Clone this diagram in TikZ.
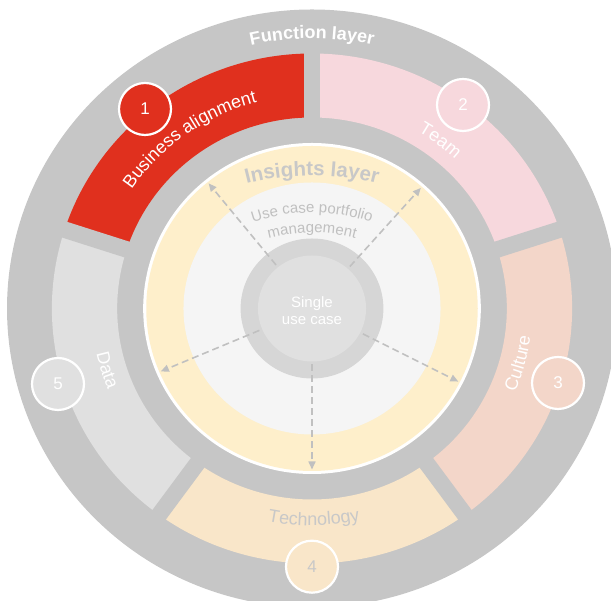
\documentclass[tikz,border=0pt]{standalone}
\usepackage{fontspec}
\setmainfont{Liberation Sans}
\usetikzlibrary{arrows.meta,decorations.text}

\definecolor{ringgray}{HTML}{C6C6C6}
\definecolor{bizred}{HTML}{E0301E}
\definecolor{teampink}{HTML}{F7D8DD}
\definecolor{culturepeach}{HTML}{F3D6C9}
\definecolor{techtan}{HTML}{F9E6C9}
\definecolor{datagray}{HTML}{E0E0E0}
\definecolor{insightyellow}{HTML}{FEEFCB}
\definecolor{portfoliogray}{HTML}{F5F5F5}
\definecolor{corering}{HTML}{D6D6D6}
\definecolor{corefill}{HTML}{E0E0E0}
\definecolor{arrowgray}{HTML}{C0C0C0}
\definecolor{labelgray}{HTML}{C8C8C8}

% annular sector of the function layer: colour, start angle, end angle
\newcommand\ringsector[3]{%
  \fill[#1] (#2:191) arc[start angle=#2,end angle=#3,radius=191]
    -- (#3:255) arc[start angle=#3,end angle=#2,radius=255] -- cycle;}
% curved label: colour, font size, start angle, end angle, radius, text
\newcommand\arclabel[6]{%
  \path[decorate,decoration={text along path,text align=center,text color=#1,
    text={|\fontsize{#2}{#2}\selectfont|#6}}]
    (#3:#5) arc[start angle=#3,end angle=#4,radius=#5];}

\tikzset{
  numbadge/.style={circle,draw=white,line width=2.2pt,minimum size=52pt,
    inner sep=0pt,font=\fontsize{17}{17}\selectfont,text=white},
  flow/.style={arrowgray,line width=1.6pt,dash pattern=on 7pt off 4pt,
    -{Triangle[length=8pt,width=7pt]}},
  gapline/.style={ringgray,line width=16.5pt}
}

\begin{document}
\begin{tikzpicture}[x=1pt,y=1pt]
\useasboundingbox (0,0) rectangle (611,601);
\clip (0,0) rectangle (611,601);

\begin{scope}[shift={(312,292.5)},xscale=1.02]
  % function layer disc
  \fill[ringgray] (0,0) circle (299);
  \ringsector{bizred}{90}{162}
  \ringsector{teampink}{18}{90}
  \ringsector{culturepeach}{-54}{18}
  \ringsector{techtan}{-126}{-54}
  \ringsector{datagray}{162}{234}
  \foreach \g in {90,18,-54,-126,162}
    \draw[gapline] (\g:183) -- (\g:263);

  % insights layer
  \fill[white] (0,0) circle (165.5);
  \fill[insightyellow] (0,0) circle (162.5);
  \fill[portfoliogray] (0,0) circle (126);
  \fill[corering] (0,0) circle (70);
  \fill[corefill] (0,0) circle (53);

  % arrows from the single use case out to the insights layer
  \foreach \n/\a in {1/129,2/48.5,3/-27,4/-90,5/203}{
    \coordinate (s\n) at (\a:56);
    \coordinate (e\n) at (\a:161);
    \draw[flow] (s\n) -- (e\n);
  }

  % layer titles
  \path[decorate,decoration={text along path,text align=center,text color=white,
    text={|\fontsize{18}{18}\selectfont\bfseries|Function layer}}]
    (115:270) arc[start angle=115,end angle=65,radius=270];
  \path[decorate,decoration={text along path,text align=center,text color=labelgray,
    text={|\fontsize{20.5}{20.5}\selectfont\bfseries|Insights layer}}]
    ([shift={(0,-117)}]120:250) arc[start angle=120,end angle=60,radius=250];
  \path[decorate,decoration={text along path,text align=center,text color=arrowgray,
    text={|\fontsize{15}{15}\selectfont|Use case portfolio}}]
    ([shift={(0,-84.2)}]125:180) arc[start angle=125,end angle=55,radius=180];
  \path[decorate,decoration={text along path,text align=center,text color=arrowgray,
    text={|\fontsize{15}{15}\selectfont|management}}]
    ([shift={(0,-84.2)}]125:160) arc[start angle=125,end angle=55,radius=160];

  % function labels
  \arclabel{white}{18}{161.5}{89.5}{213}{Business alignment}
  \arclabel{white}{18}{89}{17}{205}{Team}
  \arclabel{white}{18}{-51}{21}{216}{Culture}
  \arclabel{labelgray}{18}{-125.5}{-53.5}{217}{Technology}
  \arclabel{white}{18}{161}{233}{216}{Data}
\end{scope}

\node[font=\fontsize{15}{17}\selectfont,text=white,align=center] (core) at (312,290) {Single\\use case};

\node[numbadge,fill=bizred] (n1) at (145,492) {1};
\node[numbadge,fill=teampink] (n2) at (463,496) {2};
\node[numbadge,fill=culturepeach] (n3) at (558,218) {3};
\node[numbadge,fill=techtan,text=labelgray] (n4) at (312,34.3) {4};
\node[numbadge,fill=datagray] (n5) at (58,217) {5};
\end{tikzpicture}
\end{document}
